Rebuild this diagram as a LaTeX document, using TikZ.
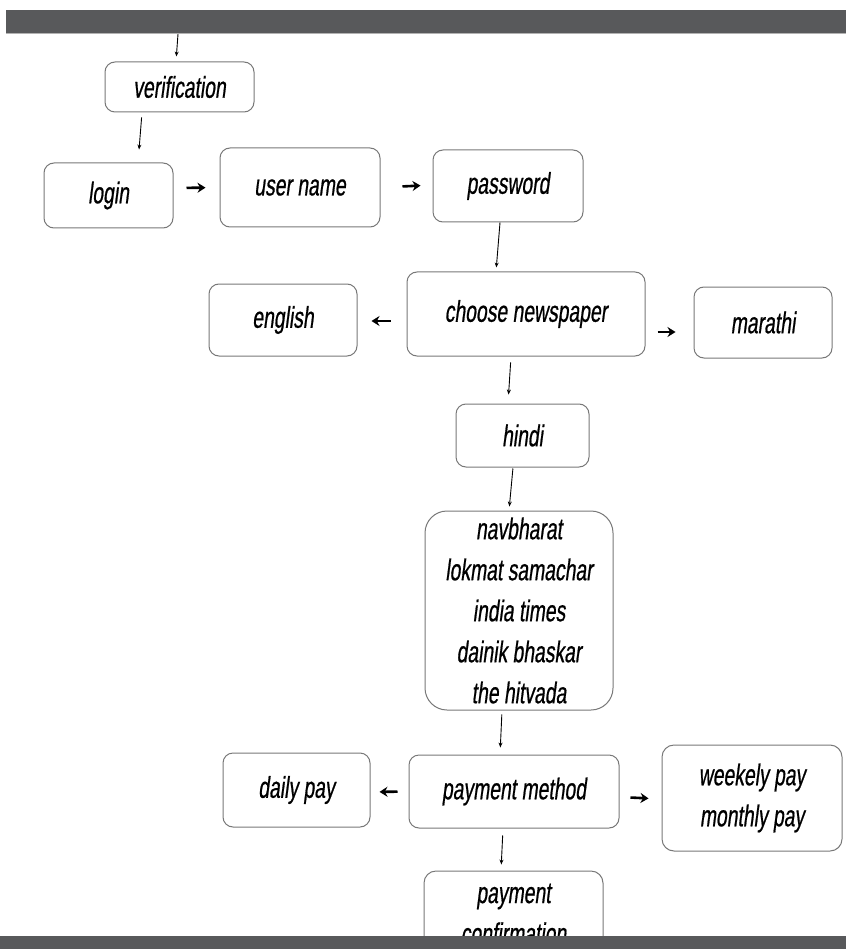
\documentclass[tikz,border=0pt]{standalone}
\usepackage{fontspec}
\newfontfamily\lblfont{Liberation Sans}[FakeStretch=0.645, FakeSlant=0.13, FakeBold=0.6]
\usetikzlibrary{arrows.meta}
\definecolor{barcol}{RGB}{88,89,91}
\definecolor{boxcol}{RGB}{120,120,120}
\begin{document}
\begin{tikzpicture}[x=1pt,y=-1pt,
  box/.style={draw=boxcol, line width=1pt, rounded corners=10pt, fill=white,
    inner sep=0pt, align=center,
    font=\lblfont\fontsize{30}{41}\selectfont},
  varr/.style={draw=black, line width=0.9pt, -{Stealth[length=5pt,width=4pt]}},
  harr/.style={draw=black, line width=2.6pt, -{Stealth[length=8pt,width=10pt]}}
]
\useasboundingbox (0,0) rectangle (846,949);
\fill[white] (0,0) rectangle (846,949);

% nodes
\node[box, minimum width=149pt, minimum height=50pt] (ver) at (179.5,87) {verification};
\node[box, minimum width=129pt, minimum height=65pt] (login) at (108.5,195.5) {login};
\node[box, minimum width=160pt, minimum height=79pt] (uname) at (300,187.5) {user name};
\node[box, minimum width=150pt, minimum height=72pt] (pw) at (508,186) {password};
\node[box, minimum width=238pt, minimum height=84pt] (cn) at (526,314) {choose newspaper};
\node[box, minimum width=148pt, minimum height=72pt] (eng) at (283,320) {english};
\node[box, minimum width=138pt, minimum height=71pt] (mar) at (763,322.5) {marathi};
\node[box, minimum width=133pt, minimum height=63pt] (hindi) at (522.5,435.5) {hindi};
\node[box, rounded corners=22pt, minimum width=188pt, minimum height=199pt] (list) at (519,610.5)
  {navbharat\\lokmat samachar\\india times\\dainik bhaskar\\the hitvada};
\node[box, minimum width=210pt, minimum height=73pt] (pm) at (514,791.5) {payment method};
\node[box, minimum width=147pt, minimum height=74pt] (daily) at (296.5,790) {daily pay};
\node[box, rounded corners=12pt, minimum width=180pt, minimum height=106pt] (week) at (752,798) {weekely pay\\monthly pay};
\node[box, rounded corners=12pt, minimum width=179pt, minimum height=86pt] (conf) at (513.5,914) {payment\\confirmation};

% connectors
\coordinate (t0) at (178,34);
\draw[varr, shorten >=5pt] (t0) -- ([xshift=-3.5pt]ver.north);
\draw[varr, shorten <=5pt, shorten >=13pt] ([xshift=-37.5pt]ver.south) -- ([xshift=29.5pt]login.north);
\draw[harr, shorten <=13pt, shorten >=14pt] ([yshift=7.5pt]login.east) -- (uname.west);
\draw[harr, shorten <=22pt, shorten >=12pt] (uname.east) -- ([yshift=1pt]pw.west);
\draw[varr, shorten >=4pt] ([xshift=-8pt]pw.south) -- ([xshift=-30pt]cn.north);
\draw[harr, shorten <=16pt, shorten >=14pt] ([yshift=-7pt]cn.west) -- ([yshift=-1pt]eng.east);
\draw[harr, shorten <=12pt, shorten >=18pt] ([yshift=-18pt]cn.east) -- ([yshift=-9.5pt]mar.west);
\draw[varr, shorten <=6pt, shorten >=9pt] ([xshift=-15pt]cn.south) -- ([xshift=-14.5pt]hindi.north);
\draw[varr, shorten <=1pt, shorten >=4pt] ([xshift=-9.5pt]hindi.south) -- ([xshift=-10pt]list.north);
\draw[varr, shorten <=4pt, shorten >=7pt] ([xshift=-17pt]list.south) -- ([xshift=-14pt]pm.north);
\draw[harr, shorten <=11pt, shorten >=9pt] (pm.west) -- ([yshift=-2pt]daily.east);
\draw[harr, shorten <=11pt, shorten >=13pt] ([yshift=-5.5pt]pm.east) -- ([yshift=-1pt]week.west);
\draw[varr, shorten <=7pt, shorten >=6pt] ([xshift=-11pt]pm.south) -- ([xshift=-12.5pt]conf.north);

% bars
\fill[barcol] (6,10) rectangle (846,34);
\draw[gray!60, line width=1pt] (6,34) -- (846,34);
\fill[barcol] (0,936) rectangle (846,949);
\end{tikzpicture}
\end{document}
